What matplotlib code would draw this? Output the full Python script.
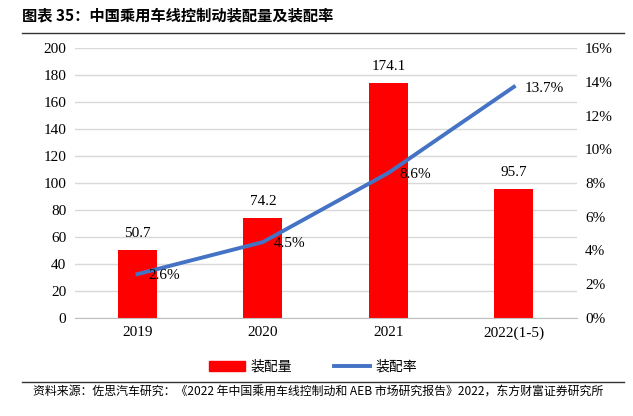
import matplotlib.pyplot as plt
from matplotlib.ticker import FuncFormatter
from matplotlib.lines import Line2D
from matplotlib.patches import Patch

plt.rcParams['font.family'] = ['Liberation Serif', 'Noto Sans CJK SC']

years = ['2019', '2020', '2021', '2022(1-5)']
volume = [50.7, 74.2, 174.1, 95.7]
rate = [2.6, 4.5, 8.6, 13.7]

cjk = ['Noto Sans CJK SC', 'DejaVu Sans']

fig = plt.figure(figsize=(6.33, 4.16), dpi=100)
ax = fig.add_axes([0.118, 0.2356, 0.793, 0.649])
ax2 = ax.twinx()

x = list(range(len(years)))
ax.bar(x, volume, width=0.31, color='#FF0000', zorder=2)
for xi, v in zip(x, volume):
    ax.annotate(f'{v}', (xi, v), xytext=(0, 7), textcoords='offset points',
                ha='center', va='bottom', fontsize=11)

ax2.plot(x, rate, color='#4472C4', lw=2.8, zorder=3)
for xi, r in zip(x, rate):
    ax2.annotate(f'{r}%', (xi, r), xytext=(8, -1), textcoords='offset points',
                 ha='left', va='center', fontsize=11)

ax.set_ylim(0, 200)
ax.set_yticks(range(0, 201, 20))
ax2.set_ylim(0, 16)
ax2.set_yticks(range(0, 17, 2))
ax2.yaxis.set_major_formatter(FuncFormatter(lambda v, p: f'{v:.0f}%'))
ax.set_xlim(-0.5, 3.5)
ax.set_xticks(x)
ax.set_xticklabels(years)

ax.grid(axis='y', color='#D9D9D9', lw=1, zorder=0)
ax.set_axisbelow(True)
for a in (ax, ax2):
    for s in ['top', 'left', 'right']:
        a.spines[s].set_visible(False)
    a.spines['bottom'].set_color('#BFBFBF')
    a.tick_params(length=0, labelsize=11, pad=6)
ax2.spines['bottom'].set_visible(False)

handles = [Patch(color='#FF0000'), Line2D([0], [0], color='#4472C4', lw=2.8)]
fig.legend(handles, ['装配量', '装配率'], loc='center', bbox_to_anchor=(0.495, 0.118),
           ncol=2, frameon=False, prop={'family': cjk, 'size': 10},
           handlelength=2.6, columnspacing=3.0, handletextpad=0.4)

fig.text(0.035, 0.962, '图表 35：中国乘用车线控制动装配量及装配率', family=cjk,
         fontsize=11, fontweight='bold', va='center')
fig.add_artist(Line2D([0.035, 0.985], [0.921, 0.921], color='#333333', lw=1))
fig.add_artist(Line2D([0.035, 0.985], [0.081, 0.081], color='#333333', lw=1))
fig.text(0.052, 0.058, '资料来源：佐思汽车研究：《2022 年中国乘用车线控制动和 AEB 市场研究报告》2022，东方财富证券研究所',
         family=cjk, fontsize=8.6, va='center')

fig.savefig('out.png', dpi=100)
